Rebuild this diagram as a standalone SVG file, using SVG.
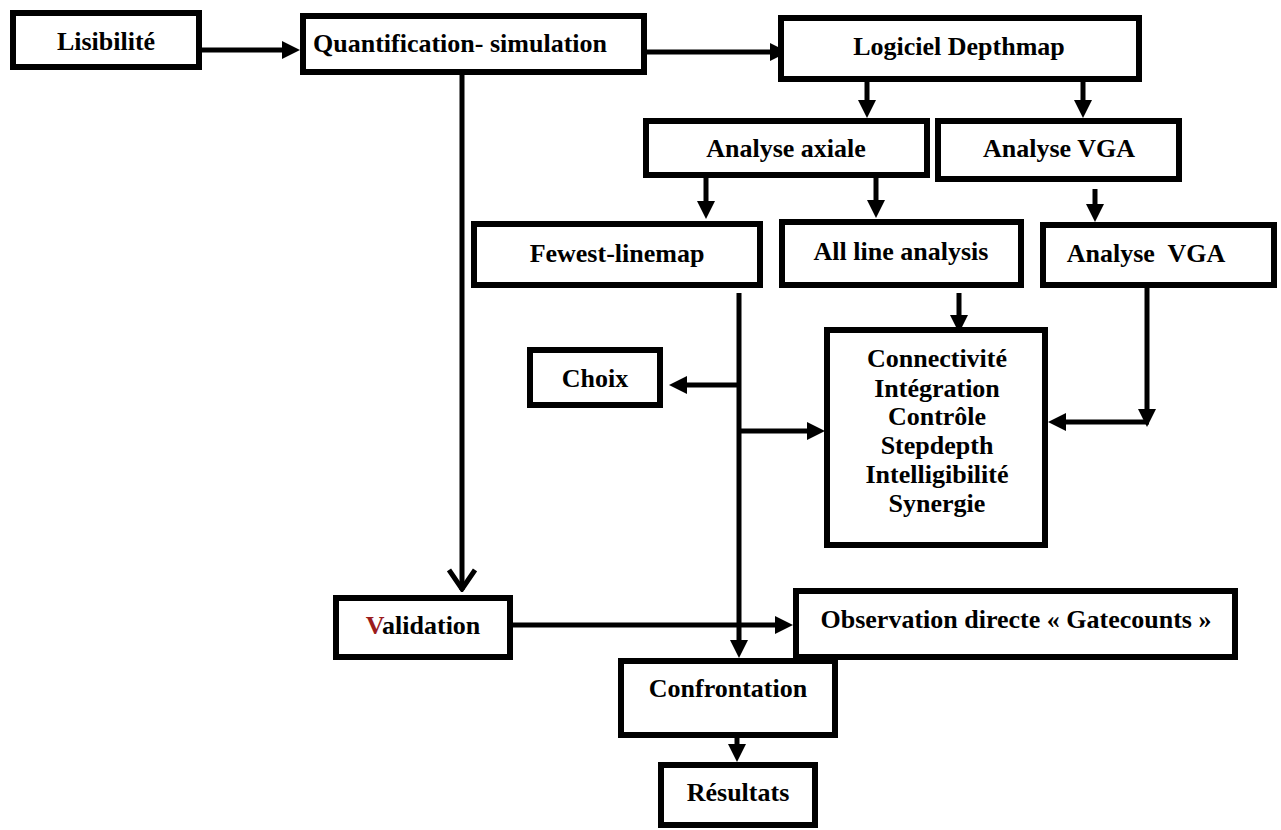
<svg xmlns="http://www.w3.org/2000/svg" width="1281" height="830" viewBox="0 0 1281 830">
<style>
.box{fill:#fff;stroke:#000;stroke-width:6}
.t{font-family:"Liberation Serif","Times New Roman",serif;font-weight:bold;font-size:26px;fill:#000;text-anchor:middle;white-space:pre}
.c{fill:none;stroke:#000;stroke-width:5}
</style>
<defs>
<marker id="ah" viewBox="0 0 18 18" refX="8" refY="9" markerWidth="18" markerHeight="18" markerUnits="userSpaceOnUse" orient="auto">
<path d="M0,0 L18,9 L0,18 z" fill="#000"/>
</marker>
<marker id="open" viewBox="0 0 24 30" refX="22" refY="15" markerWidth="24" markerHeight="30" markerUnits="userSpaceOnUse" orient="auto">
<path d="M2,2 L21,15 L2,28" fill="none" stroke="#000" stroke-width="5"/>
</marker>
</defs>
<rect width="1281" height="830" fill="#fff"/>
<g id="connectors">
<line class="c" x1="202" y1="50" x2="290" y2="50" marker-end="url(#ah)"/>
<line class="c" x1="647" y1="52" x2="778" y2="52" marker-end="url(#ah)"/>
<line class="c" x1="867" y1="82" x2="867" y2="108" marker-end="url(#ah)"/>
<line class="c" x1="1083" y1="82" x2="1083" y2="108" marker-end="url(#ah)"/>
<line class="c" x1="706" y1="178" x2="706" y2="209" marker-end="url(#ah)"/>
<line class="c" x1="876" y1="178" x2="876" y2="208" marker-end="url(#ah)"/>
<line class="c" x1="1095" y1="189" x2="1095" y2="212" marker-end="url(#ah)"/>
<line class="c" x1="462" y1="75" x2="462" y2="590" marker-end="url(#open)"/>
<line class="c" x1="739" y1="293" x2="739" y2="648" marker-end="url(#ah)"/>
<line class="c" x1="739" y1="385" x2="679" y2="385" marker-end="url(#ah)"/>
<line class="c" x1="739" y1="431" x2="815" y2="431" marker-end="url(#ah)"/>
<line class="c" x1="959" y1="293" x2="959" y2="323" marker-end="url(#ah)"/>
<line class="c" x1="1147" y1="288" x2="1147" y2="417" marker-end="url(#ah)"/>
<line class="c" x1="1149" y1="422" x2="1058" y2="422" marker-end="url(#ah)"/>
<line class="c" x1="513" y1="625" x2="783" y2="625" marker-end="url(#ah)"/>
<line class="c" x1="737" y1="738" x2="737" y2="752" marker-end="url(#ah)"/>
</g>
<g id="lisibilite"><rect class="box" x="13" y="13" width="186" height="54"/><text class="t" x="106" y="50">Lisibilité</text></g>
<g id="quantification"><rect class="box" x="303" y="16" width="341" height="56"/><text class="t" x="460" y="52">Quantification- simulation</text></g>
<g id="logiciel"><rect class="box" x="781" y="18" width="358" height="61"/><text class="t" x="959" y="55">Logiciel Depthmap</text></g>
<g id="analyse-axiale"><rect class="box" x="646" y="121" width="281" height="54"/><text class="t" x="786" y="157">Analyse axiale</text></g>
<g id="analyse-vga-1"><rect class="box" x="938" y="121" width="241" height="58"/><text class="t" x="1059" y="157">Analyse VGA</text></g>
<g id="fewest"><rect class="box" x="474" y="224" width="286" height="61"/><text class="t" x="617" y="262">Fewest-linemap</text></g>
<g id="all-line"><rect class="box" x="782" y="222" width="239" height="63"/><text class="t" x="901" y="260">All line analysis</text></g>
<g id="analyse-vga-2"><rect class="box" x="1043" y="225" width="231" height="60"/><text class="t" x="1146" y="262">Analyse  VGA</text></g>
<g id="choix"><rect class="box" x="530" y="350" width="130" height="55"/><text class="t" x="595" y="387">Choix</text></g>
<g id="mesures"><rect class="box" x="827" y="330" width="218" height="215"/>
<text class="t" x="937" y="367">Connectivité</text>
<text class="t" x="937" y="397">Intégration</text>
<text class="t" x="937" y="425">Contrôle</text>
<text class="t" x="937" y="454">Stepdepth</text>
<text class="t" x="937" y="483">Intelligibilité</text>
<text class="t" x="937" y="512">Synergie</text></g>
<g id="validation"><rect class="box" x="336" y="598" width="174" height="59"/><text class="t" x="423" y="634"><tspan fill="#9b1c1c">V</tspan>alidation</text></g>
<g id="observation"><rect class="box" x="796" y="591" width="439" height="66"/><text class="t" x="1016" y="628">Observation directe « Gatecounts »</text></g>
<g id="confrontation"><rect class="box" x="621" y="661" width="214" height="74"/><text class="t" x="728" y="697">Confrontation</text></g>
<g id="resultats"><rect class="box" x="661" y="765" width="154" height="60"/><text class="t" x="738" y="801">Résultats</text></g>
</svg>
